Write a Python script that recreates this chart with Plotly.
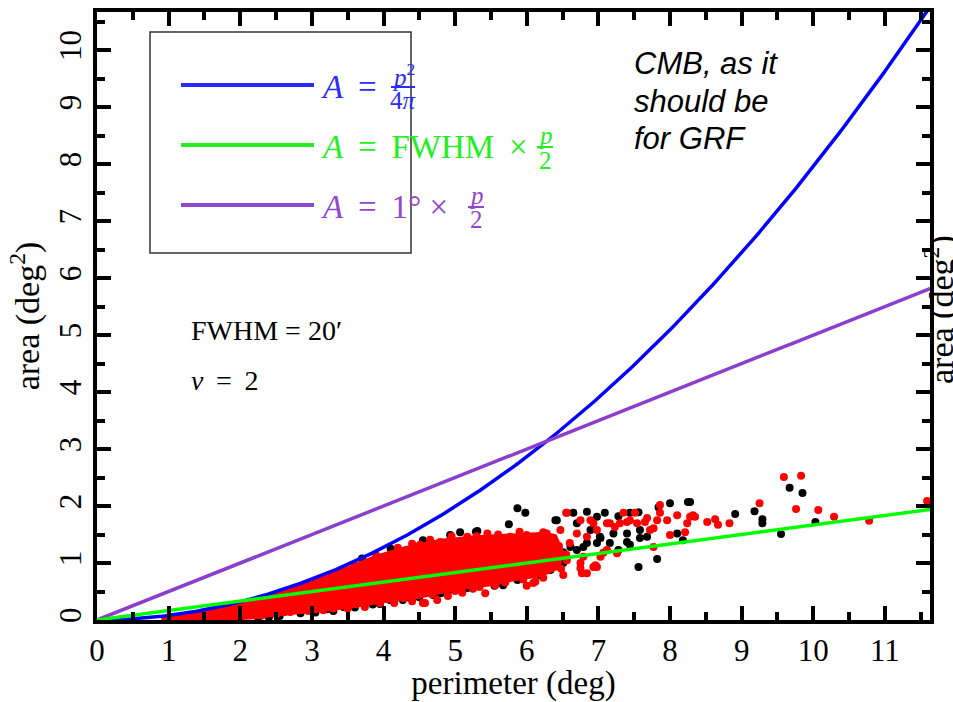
import numpy as np
import plotly.graph_objects as go

# ---------------- data ----------------
# individual hot/cold-spot measurements (perimeter in deg, area in deg^2)
black_perimeter = [2.25, 2.55, 2.84, 3.05, 3.21, 3.44, 3.60, 3.85, 4.09, 4.27, 4.33, 4.50, 4.69, 4.93,
                   5.17, 5.39, 5.67, 5.87, 6.19, 6.33, 2.40, 3.30, 3.95, 4.80, 5.55,
                   3.70, 4.10, 4.41, 4.55, 4.93, 5.07, 5.29, 5.31, 5.75, 5.87, 5.98,
                   6.40, 6.42, 6.65, 6.84, 6.98, 7.09, 7.28, 7.44, 7.56, 7.84, 8.00, 8.25, 6.70, 6.89,
                   7.02, 7.21, 7.40, 7.58, 7.16, 7.40, 7.58, 6.98, 6.79, 6.61, 6.51, 7.82, 7.56, 8.18,
                   8.10, 6.33, 6.19, 7.28, 6.51, 6.70, 6.84, 7.03, 7.44, 7.68, 5.17,
                   8.28, 8.91, 9.18, 9.29, 9.29, 9.55, 9.67, 9.85, 10.03]
black_area = [0.04, 0.07, 0.12, 0.13, 0.19, 0.23, 0.22, 0.27, 0.35, 0.35, 0.40, 0.40, 0.44, 0.53,
              0.58, 0.65, 0.61, 0.70, 0.79, 0.88, 0.05, 0.16, 0.28, 0.47, 0.60,
              1.08, 1.25, 1.28, 1.40, 1.49, 1.54, 1.55, 1.56, 1.68, 1.96, 1.88,
              1.75, 1.75, 1.88, 1.90, 1.81, 1.88, 1.82, 1.88, 1.89, 1.98, 2.05, 2.07, 1.70, 1.58,
              1.46, 1.52, 1.52, 1.58, 1.35, 1.37, 1.44, 1.35, 1.28, 1.28, 1.19, 1.07, 0.93, 1.40,
              1.52, 0.88, 0.79, 1.23, 1.00, 1.23, 1.35, 1.44, 1.32, 1.46, 0.56,
              2.07, 1.86, 1.91, 1.77, 1.70, 1.51, 2.32, 2.23, 1.72]

red_perimeter = [2.30, 2.50, 2.70, 2.95, 3.16, 3.30, 3.50, 3.74, 3.95, 4.15, 4.40, 4.58, 4.75, 4.90,
                 5.10, 5.42, 5.56, 5.81, 6.12, 6.23, 6.51, 6.77, 6.98, 6.00, 5.25, 4.55,
                 2.62, 3.05, 3.40, 3.62, 4.28, 4.68, 5.00, 5.34, 5.70, 5.95,
                 3.60, 3.90, 4.20, 4.51, 4.79, 5.17, 5.45, 5.77, 6.00, 6.23, 5.60, 6.47,
                 4.40, 4.65, 4.95, 5.30, 5.90, 6.35, 6.45, 6.55, 6.60, 6.40, 6.48,
                 6.55, 6.56, 6.75, 6.93, 7.12, 7.16, 7.23, 7.30, 7.35, 7.40, 7.44, 7.51, 7.54, 7.65,
                 7.68, 7.72, 7.77, 7.82, 7.86, 7.86, 7.96, 8.00, 8.10, 8.21, 8.24, 8.28, 8.32, 8.52,
                 6.98, 6.84, 6.70, 6.89, 7.77, 6.79, 6.96, 6.75, 6.75, 6.93, 6.84, 7.12, 7.26, 7.03,
                 7.07, 6.56, 6.33, 6.14, 6.28, 6.09,
                 8.35, 8.63, 8.67, 8.83, 9.25, 9.59, 9.83, 9.76, 10.07, 10.29, 10.78, 11.59]
red_area = [0.08, 0.10, 0.14, 0.16, 0.17, 0.20, 0.20, 0.23, 0.30, 0.30, 0.33, 0.30, 0.35, 0.42,
            0.48, 0.47, 0.61, 0.75, 0.67, 0.74, 0.79, 0.82, 0.93, 0.60, 0.55, 0.30,
            0.14, 0.19, 0.26, 0.28, 0.38, 0.45, 0.51, 0.58, 0.66, 0.71,
            0.95, 1.13, 1.27, 1.32, 1.37, 1.46, 1.52, 1.46, 1.49, 1.54, 1.50, 1.58,
            1.34, 1.41, 1.47, 1.47, 1.55, 1.45, 1.30, 1.15, 1.35, 0.98, 0.90,
            1.88, 1.88, 1.75, 1.70, 1.70, 1.70, 1.63, 1.70, 1.88, 1.72, 1.75, 1.88, 1.70, 1.72,
            1.79, 1.58, 1.61, 1.75, 1.88, 2.02, 1.75, 1.49, 1.84, 1.54, 1.70, 1.81, 1.84, 1.72,
            1.58, 1.46, 1.52, 1.75, 1.28, 1.11, 0.96, 0.91, 1.00, 0.93, 0.82, 1.23, 1.17, 1.11,
            1.18, 1.05, 1.05, 1.35, 1.52, 0.65,
            1.81, 1.77, 1.67, 1.70, 2.05, 2.51, 2.53, 1.95, 1.93, 1.81, 1.74, 2.09]

# outline of the saturated (densely packed) part of the red sample
core_perimeter = [0.90, 1.50, 2.00, 2.50, 3.00, 3.50, 3.90, 4.30, 4.80, 5.30, 5.80, 6.20, 6.40,
                  6.50, 6.45, 6.20, 5.80, 5.50, 5.00, 4.50, 4.00, 3.50, 3.00, 2.50, 2.20, 1.80, 0.90]
core_area = [0.04, 0.15, 0.29, 0.46, 0.67, 0.92, 1.12, 1.27, 1.40, 1.46, 1.49, 1.52, 1.48,
             1.20, 0.92, 0.78, 0.70, 0.62, 0.54, 0.40, 0.32, 0.22, 0.15, 0.09, 0.04, 0.01, 0.01]

# reference relations
FWHM_DEG = 20.0 / 60.0          # 20 arcmin
ONE_DEG = 1.0
perimeter_grid = np.linspace(0.0, 11.7, 300)
area_circle = perimeter_grid ** 2 / (4 * np.pi)       # A = p^2 / 4pi
area_fwhm = FWHM_DEG * perimeter_grid / 2             # A = FWHM * p / 2
area_onedeg = ONE_DEG * perimeter_grid / 2            # A = 1 deg * p / 2

x_ticks = list(range(0, 12))
y_ticks = list(range(0, 11))

# ---------------- styling ----------------
W, H = 953, 702
L, R, T, B = 97, 23, 12, 82
PW, PH = W - L - R, H - T - B
BLUE, GREEN, PURPLE = "#0000ff", "#00ff00", "#8b3fcc"
SERIF = "Liberation Serif, Times New Roman, serif"
SP = " &#8201;"   # math-style spacing around relations/operators


def px(x):
    return (x - L) / PW


def py(y):
    return (H - B - y) / PH


fig = go.Figure()

fig.add_trace(go.Scatter(x=black_perimeter, y=black_area, mode="markers",
                         marker=dict(color="black", size=8, line=dict(width=0)),
                         showlegend=False, hoverinfo="skip"))
fig.add_trace(go.Scatter(x=core_perimeter, y=core_area, mode="lines", fill="toself",
                         fillcolor="#ff0000", line=dict(color="#ff0000", width=3),
                         showlegend=False, hoverinfo="skip"))
fig.add_trace(go.Scatter(x=red_perimeter, y=red_area, mode="markers",
                         marker=dict(color="#ff0000", size=8, line=dict(width=0)),
                         showlegend=False, hoverinfo="skip"))

for yy, col in [(area_circle, BLUE), (area_onedeg, PURPLE), (area_fwhm, GREEN)]:
    fig.add_trace(go.Scatter(x=perimeter_grid, y=yy, mode="lines",
                             line=dict(color=col, width=3.5),
                             showlegend=False, hoverinfo="skip"))

axis_common = dict(
    showline=True, linewidth=3.5, linecolor="black", mirror="allticks",
    ticks="inside", ticklen=14, tickwidth=3.5, tickcolor="black",
    showgrid=False, zeroline=False,
    tickfont=dict(family=SERIF, size=31, color="black"),
)
minor_ticks = dict(ticks="inside", ticklen=8, tickwidth=3.5, tickcolor="black", dtick=0.5,
                   tick0=0, showgrid=False)

fig.update_xaxes(range=[0, 11.63], tickvals=x_ticks, ticktext=[str(v) for v in x_ticks],
                 minor=minor_ticks,
                 title=dict(text="perimeter (deg)", font=dict(family=SERIF, size=33, color="black"),
                            standoff=2),
                 **axis_common)
fig.update_yaxes(range=[0, 10.67], tickvals=y_ticks, ticktext=[str(v) for v in y_ticks],
                 tickangle=-90, minor=minor_ticks,
                 title=dict(text="area (deg<sup>2</sup>)", font=dict(family=SERIF, size=34, color="black"),
                            standoff=4),
                 **axis_common)

shapes = []
annotations = []

# legend frame
shapes.append(dict(type="rect", xref="paper", yref="paper", x0=px(150), x1=px(411),
                   y0=py(253), y1=py(32), line=dict(color="#333333", width=1.5)))


def legend_row(y_line, color, main_text, frac_x, num, den, half):
    shapes.append(dict(type="line", xref="paper", yref="paper", x0=px(181), x1=px(314),
                       y0=py(y_line), y1=py(y_line), line=dict(color=color, width=4)))
    annotations.append(dict(xref="paper", yref="paper", x=px(319), y=py(y_line + 2),
                            xanchor="left", yanchor="middle", showarrow=False, text=main_text,
                            font=dict(family=SERIF, size=33, color=color)))
    # stacked fraction
    annotations.append(dict(xref="paper", yref="paper", x=px(frac_x), y=py(y_line - 10),
                            xanchor="center", yanchor="middle", showarrow=False, text=num,
                            font=dict(family=SERIF, size=25, color=color)))
    annotations.append(dict(xref="paper", yref="paper", x=px(frac_x), y=py(y_line + 15),
                            xanchor="center", yanchor="middle", showarrow=False, text=den,
                            font=dict(family=SERIF, size=25, color=color)))
    shapes.append(dict(type="line", xref="paper", yref="paper", x0=px(frac_x - half),
                       x1=px(frac_x + half), y0=py(y_line + 2), y1=py(y_line + 2),
                       line=dict(color=color, width=2)))


legend_row(85, "#2a2aff", "<i>A</i>" + SP + "=" + SP, 403, "<i>p</i><sup>2</sup>", "4<i>π</i>", 12)
legend_row(145, "#22ee22", "<i>A</i>" + SP + "=" + SP + "FWHM" + SP + "×", 545, "<i>p</i>", "2", 8)
legend_row(205, "#9146cf", "<i>A</i>" + SP + "=" + SP + "1° ×", 476, "<i>p</i>", "2", 8)

for i, line in enumerate(["CMB, as it", "should be", "for GRF"]):
    annotations.append(dict(xref="paper", yref="paper", x=px(632), y=py(64 + 37 * i),
                            xanchor="left", yanchor="middle", showarrow=False,
                            text="<i>" + line + "</i>",
                            font=dict(family="Liberation Sans, Arial, sans-serif", size=31,
                                      color="black")))
annotations.append(dict(xref="paper", yref="paper", x=px(189), y=py(330), xanchor="left",
                        yanchor="middle", showarrow=False, text="FWHM = 20′",
                        font=dict(family=SERIF, size=28, color="black")))
annotations.append(dict(xref="paper", yref="paper", x=px(189), y=py(380), xanchor="left",
                        yanchor="middle", showarrow=False, text="<i>ν</i>" + SP + "=" + SP + "2",
                        font=dict(family=SERIF, size=28, color="black")))
# right-hand axis title
annotations.append(dict(xref="paper", yref="paper", x=px(939), y=py(310), xanchor="center",
                        yanchor="middle", showarrow=False, textangle=-90,
                        text="area (deg<sup>2</sup>)",
                        font=dict(family=SERIF, size=34, color="black")))

fig.update_layout(width=W, height=H, margin=dict(l=L, r=R, t=T, b=B, autoexpand=False),
                  plot_bgcolor="white", paper_bgcolor="white",
                  shapes=shapes, annotations=annotations, showlegend=False)

fig.write_html("out.html")
